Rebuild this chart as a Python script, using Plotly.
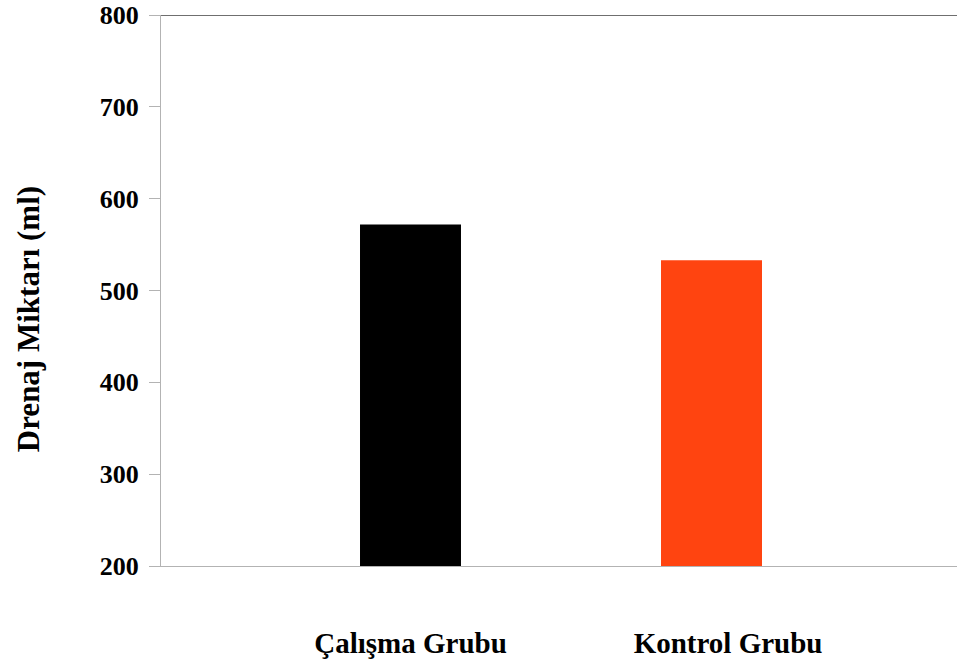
import plotly.graph_objects as go

categories = ["Çalışma Grubu", "Kontrol Grubu"]
values = [572, 533]
colors = ["#000000", "#ff4410"]
bar_pos = [1, 2]
label_pos = [1.0, 2.055]
y_ticks = [200, 300, 400, 500, 600, 700, 800]
y_title = "Drenaj Miktarı (ml)"

FONT = "Liberation Serif"

fig = go.Figure()
fig.add_trace(go.Bar(
    x=bar_pos, y=values, base=0, width=0.3355,
    marker=dict(color=colors, line=dict(width=0)),
    showlegend=False, hoverinfo="skip",
))

fig.update_layout(
    width=958, height=670,
    margin=dict(l=161, r=1, t=15, b=104, pad=0),
    paper_bgcolor="white", plot_bgcolor="white",
    font=dict(family=FONT, color="black"),
    xaxis=dict(
        range=[0.1711, 2.8156], tickvals=label_pos, ticktext=[f"<b>{c}</b>" for c in categories],
        showgrid=False, zeroline=False, showline=True, linecolor="#b3b3b3", linewidth=1,
        ticks="", tickfont=dict(family=FONT, size=29, color="black"),
        ticklabelstandoff=51,
    ),
    yaxis=dict(
        range=[200, 800], tickvals=y_ticks, ticktext=[f"<b>{t}</b>" for t in y_ticks],
        showgrid=False, zeroline=False, showline=True, linecolor="#b3b3b3", linewidth=1,
        ticks="outside", ticklen=11, tickcolor="#b3b3b3", tickwidth=1,
        tickfont=dict(family=FONT, size=26, color="black"),
        ticklabelstandoff=5,
    ),
    annotations=[dict(
        text=f"<b>{y_title}</b>", textangle=-90, showarrow=False,
        xref="paper", yref="paper", x=-0.167, y=0.448, xanchor="center", yanchor="middle",
        font=dict(family=FONT, size=31, color="black"),
    )],
    shapes=[dict(type="line", xref="paper", x0=0, x1=1, yref="y", y0=800, y1=800,
                 line=dict(color="#6f6f6f", width=2))],
)

fig.write_html("out.html", config={"displayModeBar": False},
               post_script="document.body.style.margin='0';")
